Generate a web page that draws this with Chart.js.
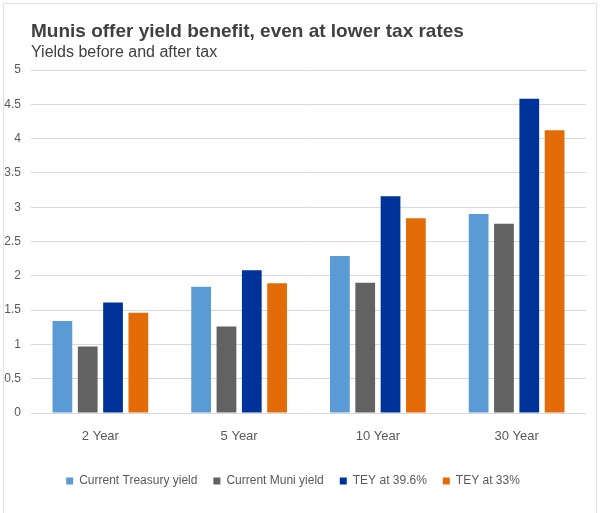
<!DOCTYPE html>
<html>
<head>
<meta charset="utf-8">
<script src="https://cdn.jsdelivr.net/npm/chart.js@4.4.1/dist/chart.umd.min.js"></script>
<style>
  html, body { margin: 0; padding: 0; background: #fff; }
  #wrap { position: relative; width: 600px; height: 513px; }
  #frame { position: absolute; left: 3px; top: 3px; width: 592px; height: 520px; border: 1px solid #e2e2e2; pointer-events: none; }
</style>
</head>
<body>
<div id="wrap">
  <canvas id="chart" width="600" height="513"></canvas>
  <div id="frame"></div>
</div>
<script>
const FONT = '"Liberation Sans Narrow", "Arial Narrow", "Liberation Sans", sans-serif';

const categories = ['2 Year', '5 Year', '10 Year', '30 Year'];
const treasury = [1.34, 1.84, 2.29, 2.90];
const muni = [0.97, 1.26, 1.90, 2.76];
const tey396 = [1.61, 2.08, 3.16, 4.58];
const tey33 = [1.46, 1.89, 2.84, 4.12];

Chart.defaults.font.family = FONT;
Chart.defaults.color = '#595959';

new Chart(document.getElementById('chart').getContext('2d'), {
  type: 'bar',
  data: {
    labels: categories,
    datasets: [
      { label: 'Current Treasury yield', data: treasury, backgroundColor: '#5B9BD5' },
      { label: 'Current Muni yield', data: muni, backgroundColor: '#626262' },
      { label: 'TEY at 39.6%', data: tey396, backgroundColor: '#003399' },
      { label: 'TEY at 33%', data: tey33, backgroundColor: '#E36C09' }
    ]
  },
  options: {
    responsive: false,
    animation: false,
    layout: { padding: { top: 20, right: 14, bottom: 16, left: 0 } },
    datasets: { bar: { categoryPercentage: 0.73, barPercentage: 0.78 } },
    scales: {
      x: {
        grid: { display: false },
        border: { display: false },
        ticks: { color: '#595959', font: { size: 13 }, padding: 8 },
        afterFit: (axis) => { axis.height = 46; }
      },
      y: {
        min: 0,
        max: 5,
        grid: { color: '#d9d9d9', drawTicks: false },
        border: { display: false },
        ticks: {
          stepSize: 0.5,
          color: '#595959',
          font: { size: 12 },
          padding: 10,
          callback: (v) => String(Math.round(v * 10) / 10)
        },
        afterFit: (axis) => { axis.width = 31; }
      }
    },
    plugins: {
      legend: {
        position: 'bottom',
        labels: { boxWidth: 7, boxHeight: 7, padding: 16, color: '#595959', font: { size: 12 } }
      },
      title: {
        display: true,
        fullSize: false,
        align: 'start',
        text: 'Munis offer yield benefit, even at lower tax rates',
        color: '#404040',
        font: { size: 19, weight: 'bold' },
        padding: { top: 0, bottom: 0 }
      },
      subtitle: {
        display: true,
        fullSize: false,
        align: 'start',
        text: 'Yields before and after tax',
        color: '#404040',
        font: { size: 16 },
        padding: { top: 0, bottom: 8 }
      },
      tooltip: { enabled: false }
    }
  }
});
</script>
</body>
</html>
